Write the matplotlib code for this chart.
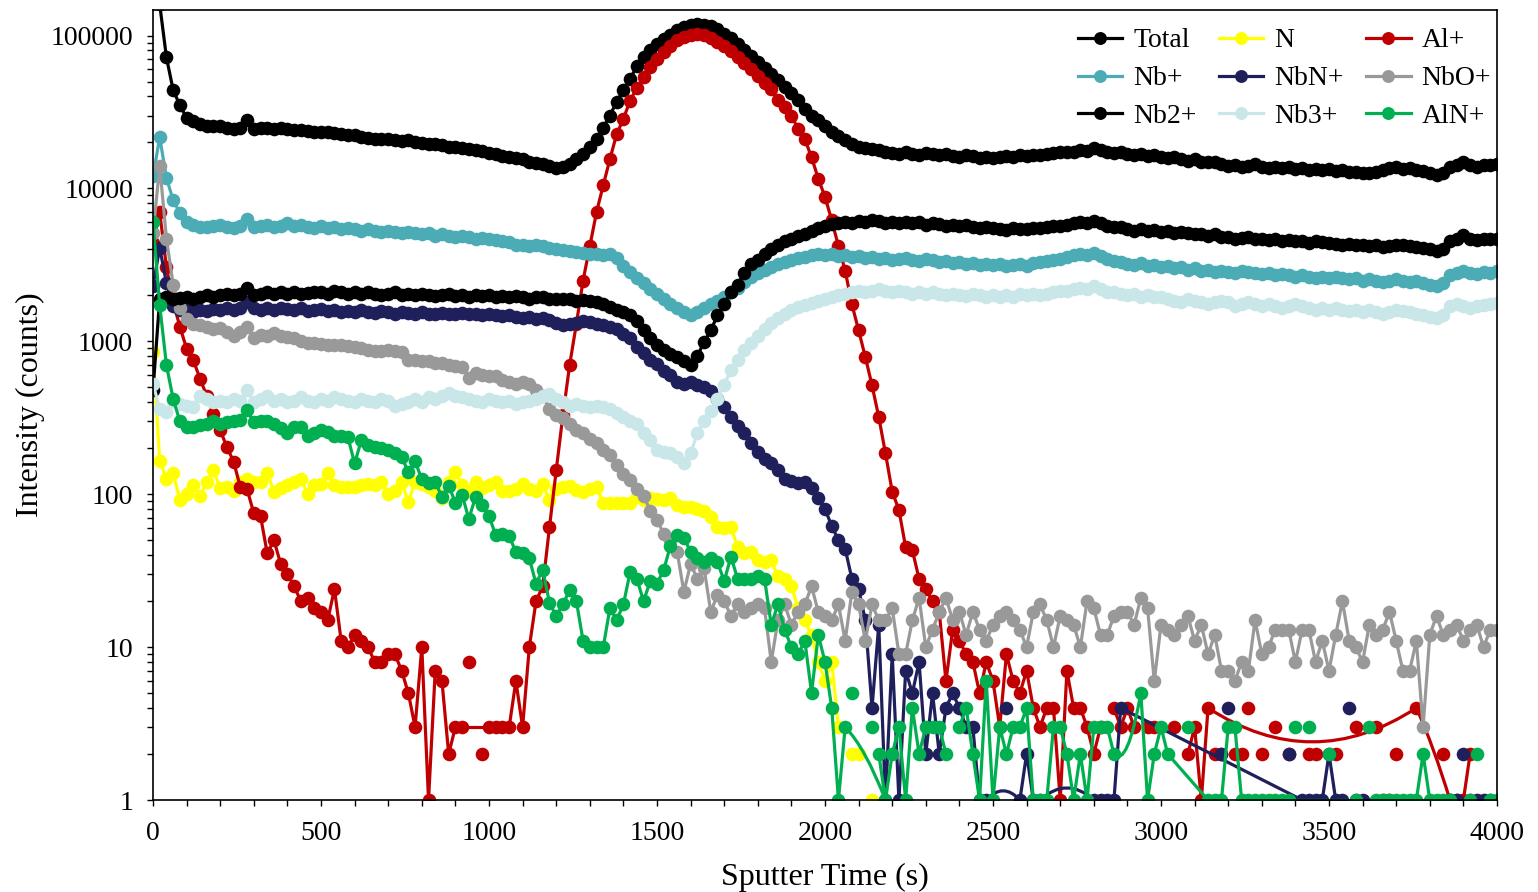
import numpy as np
import matplotlib
matplotlib.use("Agg")
import matplotlib.pyplot as plt
from matplotlib.path import Path
from matplotlib.patches import PathPatch
from matplotlib.ticker import MultipleLocator, LogLocator, FuncFormatter, NullFormatter

nan = np.nan

# ==============================
# data: one reading every 20 s (0 ... 4000 s), nan = no count
# ==============================
time_s = np.arange(0, 4001, 20)

total = [500000, 160000, 72000, 44000, 35000, 29000, 27500, 26500, 25700, 25500, 25800, 25000, 24500, 25000, 28000, 24500, 25000, 24800, 24500, 25000, 24500, 24000, 24200, 23800, 23500,
         23300, 23500, 23000, 22700, 22500, 22300, 21800, 21500, 21200, 21000, 21200, 20800, 20500, 20600, 20000, 19800, 19500, 19500, 19200, 18800, 18600, 18500, 18200, 17800, 17500,
         17000, 16700, 16300, 16000, 15800, 15500, 15000, 14700, 14500, 14000, 13600, 13800, 14500, 15500, 16800, 18800, 21000, 25000, 30000, 37000, 44000, 52000, 63000, 72000, 80000,
         88000, 95000, 101000, 108000, 113000, 117000, 119000, 118000, 115000, 110000, 103000, 96000, 88000, 81000, 74000, 67000, 61000, 56000, 51000, 46000, 42000, 38000, 33000, 30000, 28000,
         25500, 23500, 22000, 20800, 19500, 18800, 18300, 18000, 17800, 17200, 17000, 16800, 17200, 16800, 16500, 17000, 16800, 16500, 16800, 16200, 16000, 16500, 16200, 15800, 16000,
         15800, 16000, 16300, 16000, 16500, 16200, 16600, 16500, 16800, 17000, 17200, 17400, 17300, 17800, 17600, 18300, 17800, 17300, 17000, 17200, 16800, 16500, 16800, 16200, 16500,
         16000, 15800, 16000, 15500, 15200, 15500, 15000, 14800, 15000, 14500, 14000, 14200, 13800, 14000, 14500, 13800, 13700, 13900, 13600, 13800, 13500, 13600, 13300, 13500, 13200,
         13400, 13000, 13200, 12800, 12900, 12600, 12700, 12900, 13200, 13600, 13800, 13500, 13700, 13300, 13000, 12700, 12300, 12600, 13900, 14300, 14800, 14200, 13900, 14300, 14200,
         14400]

n_ion = [850, 165, 126, 137, 92, 100, 115, 97, 120, 143, 110, 112, 105, 120, 125, 120, 120, 137, 104, 110, 115, 120, 125, 101, 115,
         117, 137, 115, 112, 112, 112, 115, 117, 115, 120, 101, 105, 120, 89, 120, 117, 112, 105, 95, 120, 140, 115, 105, 120, 110,
         115, 120, 105, 105, 109, 117, 108, 105, 117, 91, 109, 111, 114, 106, 104, 108, 111, 87, 88, 87, 88, 87, 96, 92, 94,
         93, 92, 94, 85, 83, 83, 80, 78, 71, 61, 60, 61, 45, 41, 42, 37, 36, 37, 29, 28, 25, 18, 15, 12, 8,
         6, 8, 3, nan, 2, 2, nan, 1, nan, nan, nan, nan, nan, nan, nan, nan, nan, nan, nan, nan, nan, nan, nan, nan, nan,
         nan, nan, nan, nan, nan, nan, nan, nan, nan, nan, nan, nan, nan, nan, nan, nan, nan, nan, nan, nan, nan, nan, nan, nan, nan,
         nan, nan, nan, nan, nan, nan, nan, nan, nan, nan, nan, nan, nan, nan, nan, nan, nan, nan, nan, nan, nan, nan, nan, nan, nan,
         nan, nan, nan, nan, nan, nan, nan, nan, nan, nan, nan, nan, nan, nan, nan, nan, nan, nan, nan, nan, nan, nan, nan, nan, nan,
         nan]

al = [4400, 7000, 3060, 1800, 1250, 895, 752, 570, 440, 336, 262, 204, 163, 111, 108, 75, 72, 41, 50, 35, 30, 25, 20, 21, 18,
      17, 15, 24, 11, 10, 12, 11, 10, 8, 8, 9, 9, 7, 5, 3, 10, 1, 7, 6, 2, 3, 3, nan, nan, nan,
      3, 3, 3, 3, 6, 3, 10, 20, 25, 61, 143, 330, 700, 1300, 2500, 4200, 7000, 10500, 15600, 22700, 28500, 37600, 45400, 53300, 62000,
      70000, 78000, 86000, 93000, 98000, 101000, 103000, 101000, 97000, 91000, 85000, 79000, 72000, 66000, 60000, 54000, 49000, 44500, 38000, 34000, 30000, 24500, 21000, 16000, 11600,
      8800, 6200, 4200, 2900, 1750, 1180, 790, 515, 320, 185, 104, 79, 45, 43, 28, 24, 20, 17, 6, 13, 11, 9, 8, 5, 8,
      6, 3, 9, 6, 5, 7, 4, 3, 4, 4, 1, 7, 4, 4, 3, 2, 3, nan, 4, 3, 4, 3, nan, 3, 3,
      nan, nan, nan, nan, 2, 3, 1, 4, nan, nan, nan, nan, nan, nan, nan, nan, nan, nan, nan, nan, nan, nan, nan, nan, nan,
      nan, nan, nan, nan, nan, nan, nan, nan, nan, nan, nan, nan, nan, 4, nan, nan, nan, nan, 1, 1, 1, 2, nan, nan, nan,
      nan]

nb = [12000, 21600, 11700, 8400, 6900, 6000, 5800, 5600, 5600, 5700, 5800, 5600, 5500, 5700, 6300, 5600, 5700, 5800, 5600, 5700, 5900, 5700, 5800, 5600, 5500,
      5700, 5500, 5600, 5400, 5500, 5400, 5300, 5400, 5300, 5200, 5300, 5200, 5100, 5200, 5100, 5000, 5100, 4900, 5000, 4900, 4800, 4900, 4800, 4700, 4750,
      4650, 4600, 4500, 4450, 4300, 4250, 4200, 4250, 4200, 4100, 4000, 3950, 3900, 3850, 3800, 3750, 3700, 3650, 3700, 3500, 3100, 2850, 2600, 2400, 2200,
      2050, 1900, 1750, 1650, 1550, 1480, 1550, 1650, 1750, 1850, 1950, 2100, 2250, 2450, 2650, 2800, 2950, 3050, 3200, 3300, 3400, 3500, 3550, 3650, 3700,
      3650, 3700, 3600, 3650, 3550, 3600, 3500, 3550, 3450, 3500, 3400, 3450, 3500, 3400, 3350, 3450, 3400, 3300, 3350, 3250, 3300, 3200, 3250, 3150, 3200,
      3150, 3200, 3100, 3150, 3200, 3100, 3250, 3300, 3350, 3400, 3450, 3550, 3650, 3750, 3650, 3800, 3600, 3450, 3350, 3300, 3200, 3150, 3250, 3100, 3150,
      3050, 3100, 3000, 3050, 2950, 3000, 2900, 2950, 2850, 2900, 2850, 2800, 2900, 2850, 2800, 2750, 2800, 2700, 2750, 2700, 2650, 2700, 2650, 2600, 2650,
      2600, 2650, 2600, 2550, 2600, 2500, 2550, 2500, 2450, 2500, 2550, 2500, 2450, 2500, 2400, 2350, 2300, 2400, 2700, 2800, 2900, 2800, 2750, 2850, 2800,
      2900]

nbn = [2300, 4100, 2400, 1700, 1600, 1600, 1550, 1600, 1580, 1620, 1600, 1650, 1600, 1650, 1800, 1650, 1600, 1650, 1600, 1650, 1620, 1600, 1650, 1580, 1600,
       1620, 1580, 1600, 1550, 1580, 1550, 1600, 1560, 1540, 1580, 1550, 1520, 1560, 1540, 1520, 1550, 1520, 1500, 1540, 1520, 1500, 1530, 1500, 1520, 1480,
       1500, 1480, 1460, 1480, 1450, 1420, 1440, 1400, 1420, 1380, 1320, 1280, 1300, 1320, 1350, 1330, 1300, 1280, 1240, 1200, 1120, 1050, 920, 840, 760,
       715, 640, 600, 540, 528, 540, 520, 500, 470, 420, 370, 320, 280, 250, 215, 190, 170, 160, 145, 125, 122, 118, 120, 110, 95,
       80, 62, 50, 44, 28, 24, 15, 4, 14, 1, 9, 1, 7, 5, 8, 2, 5, 2, 4, 5, 4, 3, 3, 1, 1,
       nan, nan, nan, nan, 1, 2, 1, 1, nan, nan, nan, nan, nan, nan, nan, 1, 1, 1, 1, 4, nan, nan, nan, nan, nan,
       nan, nan, nan, nan, nan, nan, nan, nan, nan, nan, nan, nan, nan, nan, nan, nan, nan, nan, nan, nan, nan, 1, 1, 1, 1,
       2, 1, 1, nan, 1, 1, nan, nan, 1, 1, nan, nan, nan, nan, nan, nan, nan, nan, 1, 1, nan, 1, 1, 1, 1,
       nan]

nbo = [5100, 14000, 4700, 2350, 1650, 1400, 1300, 1270, 1250, 1200, 1220, 1150, 1090, 1150, 1250, 1050, 1100, 1080, 1130, 1080, 1070, 1050, 1000, 970, 980,
       960, 950, 940, 950, 930, 920, 900, 880, 870, 860, 880, 860, 850, 760, 750, 740, 740, 720, 720, 700, 690, 680, 580, 620, 600,
       590, 590, 560, 540, 530, 540, 530, 480, 440, 360, 330, 315, 290, 265, 250, 230, 215, 195, 180, 155, 135, 123, 108, 98, 78,
       68, 55, 50, 42, 23, 35, 28, 33, 17, 22, 20, 16, 19, 17, 18, 19, 18, 8, 15, 19, 14, 17, 19, 25, 17,
       16, 15, 19, 11, 23, 19, 11, 19, 15, 15, 18, 9, 9, 15, 21, 10, 13, 17, 21, 15, 17, 12, 17, 13, 11,
       14, 16, 17, 15, 13, 10, 17, 19, 15, 10, 16, 15, 14, 10, 20, 18, 12, 12, 16, 17, 17, 14, 21, 18, 6,
       14, 13, 12, 14, 16, 11, 14, 9, 12, 7, 7, 6, 8, 7, 15, 9, 10, 13, 13, 13, 8, 13, 13, 8, 11,
       7, 12, 20, 11, 10, 8, 14, 12, 13, 17, 11, 7, 7, 11, 3, 12, 16, 12, 13, 14, 11, 13, 14, 10, 13,
       13]

nb2 = [480, 1900, 1950, 1900, 1920, 1950, 1900, 1950, 2000, 1950, 2000, 2050, 2000, 2050, 2250, 2000, 2050, 2100, 2050, 2100, 2050, 2100, 2050, 2080, 2100,
       2100, 2050, 2150, 2100, 2050, 2100, 2050, 2100, 2050, 2000, 2050, 2100, 2000, 2050, 2000, 2050, 2000, 1980, 2000, 2050, 1980, 2000, 1950, 2000, 1980,
       2000, 1950, 1980, 1950, 1980, 1950, 1900, 1950, 1950, 1900, 1900, 1880, 1900, 1850, 1870, 1850, 1800, 1750, 1680, 1600, 1550, 1480, 1350, 1180, 1050,
       940, 880, 830, 790, 740, 700, 800, 990, 1180, 1480, 1760, 2100, 2350, 2800, 3200, 3400, 3700, 4000, 4300, 4500, 4700, 4900, 5050, 5300, 5500,
       5700, 5850, 5900, 6000, 5950, 6100, 6050, 6200, 6100, 5900, 6000, 5950, 6050, 5900, 6000, 5800, 5900, 5850, 5700, 5800, 5650, 5750, 5600, 5500, 5600,
       5500, 5400, 5350, 5500, 5400, 5450, 5500, 5550, 5600, 5650, 5700, 5800, 5900, 6000, 5950, 6100, 5900, 5700, 5600, 5600, 5400, 5300, 5450, 5300, 5350,
       5200, 5250, 5150, 5200, 5100, 5000, 5050, 4900, 5000, 4850, 4800, 4700, 4750, 4800, 4650, 4700, 4600, 4650, 4550, 4600, 4500, 4550, 4400, 4500, 4450,
       4400, 4350, 4300, 4350, 4250, 4300, 4200, 4250, 4150, 4200, 4300, 4250, 4200, 4150, 4050, 4000, 3900, 4000, 4500, 4700, 4950, 4700, 4600, 4700, 4650,
       4700]

nb3 = [530, 360, 345, 405, 390, 380, 370, 440, 420, 400, 410, 400, 420, 410, 480, 400, 420, 440, 410, 420, 400, 410, 430, 410, 400,
       420, 410, 430, 420, 410, 400, 420, 410, 400, 420, 410, 380, 390, 400, 420, 400, 430, 420, 440, 460, 440, 430, 420, 410, 400,
       420, 410, 400, 410, 390, 400, 410, 420, 440, 450, 420, 400, 380, 390, 380, 370, 380, 370, 360, 340, 320, 300, 290, 250, 225,
       195, 190, 185, 175, 160, 185, 250, 300, 350, 420, 520, 650, 760, 880, 980, 1080, 1200, 1320, 1430, 1520, 1600, 1680, 1740, 1780, 1850,
       1900, 1950, 2000, 2050, 2100, 2150, 2100, 2150, 2200, 2150, 2100, 2150, 2100, 2050, 2100, 2050, 2100, 2050, 2000, 2050, 2000, 1980, 2050, 2000, 1950,
       2000, 1950, 2000, 1950, 2050, 2000, 2050, 2000, 2050, 2100, 2150, 2150, 2200, 2250, 2200, 2300, 2200, 2100, 2100, 2050, 2000, 2050, 1950, 2000, 1950,
       1950, 1900, 1850, 1800, 1900, 1850, 1800, 1750, 1800, 1850, 1800, 1700, 1750, 1800, 1750, 1700, 1750, 1700, 1650, 1700, 1750, 1700, 1650, 1600, 1650,
       1600, 1650, 1600, 1580, 1600, 1550, 1600, 1550, 1500, 1550, 1600, 1580, 1550, 1500, 1480, 1450, 1420, 1480, 1700, 1750, 1700, 1650, 1700, 1720, 1750,
       1780]

aln = [6000, 1720, 700, 420, 300, 275, 275, 285, 290, 300, 290, 295, 300, 305, 354, 295, 300, 300, 290, 270, 250, 275, 275, 240, 250,
       265, 255, 240, 240, 237, 159, 225, 210, 205, 200, 195, 185, 175, 140, 165, 125, 118, 120, 96, 114, 88, 99, 69, 96, 85,
       72, 54, 55, 53, 42, 41, 38, 26, 32, 19.5, 16, 19, 23.6, 20, 11, 10, 10, 10, 18, 15, 19, 31, 28, 20, 27,
       26, 32, 46, 54, 52, 42, 38, 36, 38, 36, 27, 39, 28, 28, 28, 29, 28, 14, 19, 13, 10, 9, 11, 5, 12,
       8, 4, 1, 3, nan, nan, nan, nan, 2, 1, 2, 3, 1, 4, 2, 3, 3, 3, 2, nan, 3, 4, 2, 1, 6,
       1, 3, 2, 3, 3, 4, 1, 1, 1, 3, 3, 2, 1, 2, 1, 3, 3, 3, 2, nan, nan, nan, 5, 1, 2,
       3, 2, nan, nan, nan, nan, nan, 1, 1, 1, 3, 3, 1, 1, 1, 1, 1, 1, 1, 1, nan, nan, nan, nan, nan,
       nan, nan, nan, nan, 1, nan, nan, 1, 1, 1, 1, 1, 1, 1, 2, 1, 1, 1, 1, nan, nan, 1, nan, nan, 1,
       1]

# lone readings that the chart shows without a connecting line: (times, counts)
al_dots = ([940, 980, 3040, 3160, 3180, 3220, 3240, 3260, 3300, 3340, 3380, 3440, 3460, 3520, 3580, 3640, 3700, 3840],
           [8, 2, 3, 2, 2, 2, 2, 4, 2, 3, 2, 2, 2, 2, 3, 3, 2, 2])
nbn_dots = ([2540, 3180, 3200, 3380, 3560, 3900], [4, 2, 4, 2, 4, 2])
aln_dots = ([2080, 2140, 3080, 3400, 3440, 3500, 3620, 3940], [5, 3, 3, 3, 3, 2, 3, 2])

# lines Excel drew across empty cells: (from s, to s, bend value or None for straight)
al_bridges = [(920, 1000, None), (3140, 3760, 1.44), (3760, 3860, 2.3)]
nbn_bridges = [(2480, 2580, 1.32), (2640, 2800, 1.44), (2880, 3420, None)]
aln_bridges = [(2060, 2180, 2.2), (2860, 2940, 1.6), (3020, 3140, None), (3380, 3580, None)]

# ==============================
# plot
# ==============================
plt.rcParams["font.family"] = ["Liberation Serif", "DejaVu Serif"]
plt.rcParams["axes.linewidth"] = 1.2

fig = plt.figure(figsize=(15.38, 8.92), dpi=100)
ax = fig.add_axes([153 / 1538, 1 - 800 / 892, (1497 - 153) / 1538, (800 - 10) / 892])
ax.set_yscale("log")

LW = 2.3
MS = 9.8


def draw(vals, color, label, dots=None, bridges=()):
    vals = np.asarray(vals, dtype=float)
    line, = ax.plot(time_s, vals, "-o", color=color, lw=LW, ms=MS, mew=0, label=label)
    for t0, t1, bend in bridges:
        v0 = vals[time_s == t0][0]
        v1 = vals[time_s == t1][0]
        if bend is None:
            ax.plot([t0, t1], [v0, v1], "-", color=color, lw=LW)
        else:
            p = Path([(t0, v0), ((t0 + t1) / 2, bend), (t1, v1)],
                     [Path.MOVETO, Path.CURVE3, Path.CURVE3])
            ax.add_patch(PathPatch(p, fill=False, ec=color, lw=LW, zorder=2))
    if dots is not None:
        ax.plot(dots[0], dots[1], "o", ls="none", color=color, ms=MS, mew=0)
    return line


h_total = draw(total, "black", "Total")
h_n = draw(n_ion, "#FFFF00", "N")
h_al = draw(al, "#C00000", "Al+", al_dots, al_bridges)
h_nb = draw(nb, "#4BACB6", "Nb+")
h_nbn = draw(nbn, "#1F1F5C", "NbN+", nbn_dots, nbn_bridges)
h_nbo = draw(nbo, "#999999", "NbO+")
h_nb2 = draw(nb2, "black", "Nb2+")
h_nb3 = draw(nb3, "#C9E6E9", "Nb3+")
h_aln = draw(aln, "#00B050", "AlN+", aln_dots, aln_bridges)

ax.set_xlim(0, 4000)
ax.set_ylim(1, 1.47e5)

ax.xaxis.set_major_locator(MultipleLocator(500))
ax.xaxis.set_minor_locator(MultipleLocator(100))
ax.yaxis.set_major_locator(LogLocator(base=10))
ax.yaxis.set_minor_locator(LogLocator(base=10, subs=np.arange(2, 10)))
ax.yaxis.set_major_formatter(FuncFormatter(lambda v, p: f"{v:.0f}"))
ax.yaxis.set_minor_formatter(NullFormatter())

ax.tick_params(which="both", direction="out", length=4.3, width=1.0, labelsize=20)
ax.tick_params(axis="x", pad=11)
ax.tick_params(axis="y", pad=10)

ax.set_xlabel("Sputter Time (s)", fontsize=23, labelpad=12)
ax.set_ylabel("Intensity (counts)", fontsize=23, labelpad=4)

handles = [h_total, h_nb, h_nb2, h_n, h_nbn, h_nb3, h_al, h_nbo, h_aln]
ax.legend(handles, [h.get_label() for h in handles], ncol=3, loc="upper right",
          bbox_to_anchor=(1.006, 0.995), frameon=False, fontsize=20, numpoints=1,
          handlelength=1.6, handletextpad=0.4, columnspacing=0.8,
          labelspacing=0.45, borderaxespad=0.1, markerscale=0.95)

fig.savefig("out.png", dpi=100)
